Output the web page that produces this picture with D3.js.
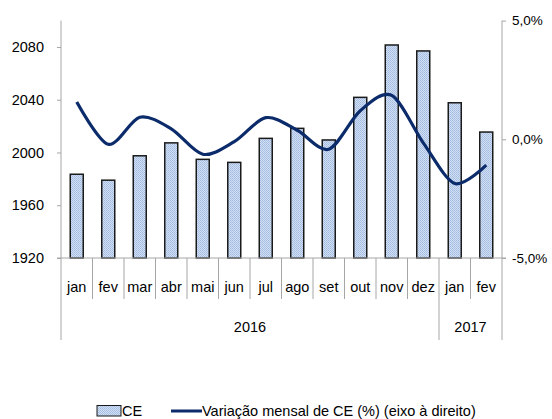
<!DOCTYPE html>
<html lang="pt">
<head>
    <meta charset="UTF-8">
    <title>CE e variação mensal</title>
    <script src="https://d3js.org/d3.v7.min.js"></script>
    <style>
        body { margin: 0; background: #fff; }
        svg text {
            font-family: "Liberation Sans", Arial, sans-serif;
            font-size: 14.5px;
            fill: #000;
        }
    </style>
</head>
<body>
<div id="chart"></div>
<script>
    // Data
    const months = ["jan", "fev", "mar", "abr", "mai", "jun", "jul", "ago", "set", "out", "nov", "dez", "jan", "fev"];
    const years = [{label: "2016", from: 0, to: 12}, {label: "2017", from: 12, to: 14}];
    const ceValues = [1983.5, 1979, 1997.5, 2007.3, 1994.8, 1992.5, 2010.7, 2018.3, 2009.5, 2041.8, 2081.5, 2077, 2037.7, 2015.5];
    const variation = [1.57, -0.21, 0.93, 0.44, -0.63, -0.1, 0.91, 0.38, -0.42, 1.2, 1.85, -0.15, -1.86, -1.09];
    const leftTicks = [1920, 1960, 2000, 2040, 2080];
    const rightTicks = [-5, 0, 5];

    const width = 552, height = 419;
    const plotLeft = 61, plotRight = 502, plotTop = 20.6, plotBottom = 258;

    const svg = d3.select("#chart").append("svg")
        .attr("width", width)
        .attr("height", height);

    // dotted fill like the original bars
    const defs = svg.append("defs");
    const pat = defs.append("pattern")
        .attr("id", "dots")
        .attr("width", 2).attr("height", 2)
        .attr("patternUnits", "userSpaceOnUse");
    pat.append("rect").attr("width", 2).attr("height", 2).attr("fill", "#d2def2");
    pat.append("rect").attr("width", 1).attr("height", 1).attr("fill", "#a2bbe2");
    pat.append("rect").attr("x", 1).attr("y", 1).attr("width", 1).attr("height", 1).attr("fill", "#adc3e6");

    const x = d3.scaleBand().domain(d3.range(months.length)).range([plotLeft, plotRight]);
    const yLeft = d3.scaleLinear().domain([1920, 2100]).range([plotBottom, plotTop]);
    const yRight = d3.scaleLinear().domain([-5, 5]).range([plotBottom, plotTop]);

    const axisColor = "#a6a6a6";

    // left axis
    const gl = svg.append("g").attr("transform", `translate(${plotLeft},0)`)
        .call(d3.axisLeft(yLeft).tickValues(leftTicks).tickSize(4).tickPadding(13).tickFormat(d3.format("d")));
    gl.select(".domain").remove();
    gl.selectAll(".tick line").attr("stroke", axisColor);
    gl.selectAll(".tick text").style("font-size", "14.5px");
    svg.append("line")
        .attr("x1", plotLeft).attr("x2", plotLeft)
        .attr("y1", plotTop).attr("y2", 340)
        .attr("stroke", axisColor);

    // right axis (plain hyphen for the minus, comma decimals)
    const pctFormat = d => d.toFixed(1).replace(".", ",") + "%";
    const gr = svg.append("g").attr("transform", `translate(${plotRight},0)`)
        .call(d3.axisRight(yRight).tickValues(rightTicks).tickSize(4).tickPadding(6).tickFormat(pctFormat));
    gr.select(".domain").remove();
    gr.selectAll(".tick line").attr("stroke", axisColor);
    gr.selectAll(".tick text").style("font-size", "13.5px");
    svg.append("line")
        .attr("x1", plotRight).attr("x2", plotRight)
        .attr("y1", plotTop).attr("y2", 340)
        .attr("stroke", axisColor);

    // bars
    svg.selectAll(".bar")
        .data(ceValues)
        .enter().append("rect")
        .attr("class", "bar")
        .attr("x", (d, i) => x(i) + x.bandwidth() / 2 - 6.5)
        .attr("width", 13)
        .attr("y", d => yLeft(d))
        .attr("height", d => plotBottom - yLeft(d))
        .attr("fill", "url(#dots)")
        .attr("stroke", "#1a1a1a")
        .attr("stroke-width", 1.5);

    // category axis
    svg.append("line")
        .attr("x1", plotLeft - 4).attr("x2", plotRight + 4)
        .attr("y1", plotBottom).attr("y2", plotBottom)
        .attr("stroke", axisColor);

    svg.selectAll(".sep")
        .data(d3.range(1, months.length))
        .enter().append("line")
        .attr("class", "sep")
        .attr("x1", i => x(i)).attr("x2", i => x(i))
        .attr("y1", plotBottom)
        .attr("y2", i => years.some(y => y.from === i) ? 340 : 299)
        .attr("stroke", axisColor);

    svg.selectAll(".month")
        .data(months)
        .enter().append("text")
        .attr("class", "month")
        .attr("x", (d, i) => x(i) + x.bandwidth() / 2)
        .attr("y", 292)
        .attr("text-anchor", "middle")
        .text(d => d);

    svg.selectAll(".year")
        .data(years)
        .enter().append("text")
        .attr("class", "year")
        .attr("x", d => (x(d.from) + (d.to < months.length ? x(d.to) : plotRight)) / 2)
        .attr("y", 332)
        .attr("text-anchor", "middle")
        .text(d => d.label);

    // variation line
    const line = d3.line()
        .x((d, i) => x(i) + x.bandwidth() / 2)
        .y(d => yRight(d))
        .curve(d3.curveCardinal.tension(0.1));

    svg.append("path")
        .datum(variation)
        .attr("d", line)
        .attr("fill", "none")
        .attr("stroke", "#0b2b6b")
        .attr("stroke-width", 3.2);

    // legend
    const lg = svg.append("g");
    lg.append("rect")
        .attr("x", 97).attr("y", 405.5)
        .attr("width", 24).attr("height", 10.5)
        .attr("fill", "url(#dots)")
        .attr("stroke", "#1a1a1a").attr("stroke-width", 1);
    lg.append("text").attr("x", 122).attr("y", 416).text("CE");
    lg.append("line")
        .attr("x1", 171).attr("x2", 202)
        .attr("y1", 411).attr("y2", 411)
        .attr("stroke", "#0b2b6b").attr("stroke-width", 3);
    lg.append("text").attr("x", 202).attr("y", 416).text("Variação mensal de CE (%) (eixo à direito)");
</script>
</body>
</html>
